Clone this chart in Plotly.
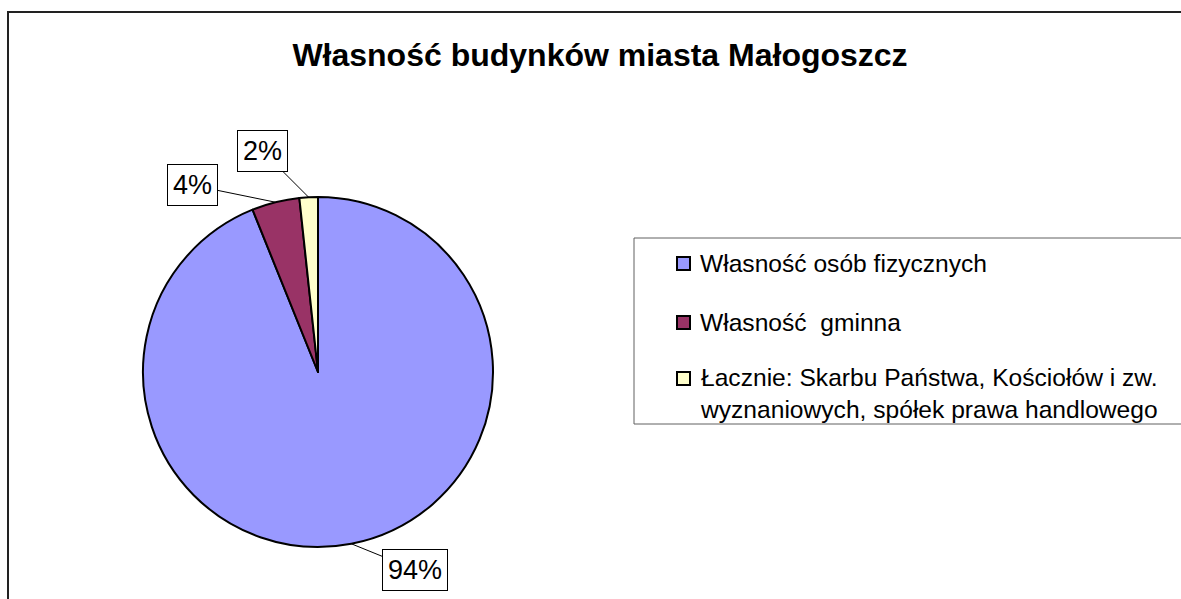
import plotly.graph_objects as go
import math

# ---- data ----
categories = [
    "Własność osób fizycznych",
    "Własność  gminna",
    "Łacznie: Skarbu Państwa, Kościołów i zw.<br>wyznaniowych, spółek prawa handlowego",
]
shares = [93.9, 4.4, 1.7]
colors = ["#9999FF", "#993366", "#FFFFCC"]
title_text = "Własność budynków miasta Małogoszcz"

# ---- layout geometry (pixels) ----
W, H = 1181, 599
CX, CY, R = 318, 372, 175
FONT = "Liberation Sans, Arial, sans-serif"

def px_x(x):
    return x / W

def px_y(y):
    return 1 - y / H

fig = go.Figure()
fig.add_trace(go.Pie(
    labels=[c.replace("<br>", " ") for c in categories],
    values=shares,
    marker=dict(colors=colors, line=dict(color="black", width=2)),
    sort=False,
    direction="clockwise",
    rotation=0,
    textinfo="none",
    hoverinfo="label+percent",
    showlegend=False,
    domain=dict(x=[px_x(CX - R), px_x(CX + R)], y=[px_y(CY + R), px_y(CY - R)]),
))

# percentage labels with leader lines, anchored at slice mid-angles
label_offsets = [(64, 26), (-83, -17), (-46, -46)]
total = sum(shares)
cum = 0.0
annotations = []
for v, (ax, ay) in zip(shares, label_offsets):
    frac = v / total
    theta = math.radians(90 - 360 * (cum + frac / 2))
    cum += frac
    ex = CX + R * math.cos(theta)
    ey = CY - R * math.sin(theta)
    annotations.append(dict(
        x=px_x(ex), y=px_y(ey), xref="paper", yref="paper",
        text=f"{round(frac * 100)}%",
        showarrow=True, arrowhead=0, arrowwidth=1, arrowcolor="black",
        ax=ax, ay=ay,
        font=dict(family=FONT, size=27, color="black"),
        bgcolor="white", bordercolor="black", borderwidth=1, borderpad=5,
    ))

# custom legend
shapes = []
LX0, LY0, LY1 = 634, 238, 424
shapes.append(dict(type="rect", xref="paper", yref="paper",
                   x0=px_x(LX0), x1=1.02, y0=px_y(LY1), y1=px_y(LY0),
                   line=dict(color="#606060", width=1), fillcolor="rgba(0,0,0,0)"))
item_y = [263, 322, 378]
LEG_FS = 24.6
LINE_GAP = 1.3 * LEG_FS
for cat, col, yc in zip(categories, colors, item_y):
    shapes.append(dict(type="rect", xref="paper", yref="paper",
                       x0=px_x(677), x1=px_x(690), y0=px_y(yc + 7), y1=px_y(yc - 6),
                       line=dict(color="black", width=2), fillcolor=col))
    n_lines = len(cat.split("<br>"))
    annotations.append(dict(
        x=px_x(698), y=px_y(yc + (n_lines - 1) * LINE_GAP / 2),
        xref="paper", yref="paper",
        xanchor="left", yanchor="middle", align="left",
        text=cat, showarrow=False,
        font=dict(family=FONT, size=LEG_FS, color="black"),
    ))

# outer chart border
shapes.append(dict(type="rect", xref="paper", yref="paper",
                   x0=px_x(8), x1=1.02, y0=-0.02, y1=px_y(12),
                   line=dict(color="#222222", width=2), fillcolor="rgba(0,0,0,0)"))

fig.update_layout(
    width=W, height=H,
    margin=dict(l=0, r=0, t=0, b=0),
    paper_bgcolor="white", plot_bgcolor="white",
    title=dict(text=f"<b>{title_text}</b>", x=px_x(600), xanchor="center",
               y=px_y(55), yanchor="middle", yref="container",
               font=dict(family=FONT, size=32, color="black")),
    shapes=shapes,
    annotations=annotations,
)

fig.write_html("out.html", config={"displayModeBar": False},
               post_script="document.body.style.margin='0';")
